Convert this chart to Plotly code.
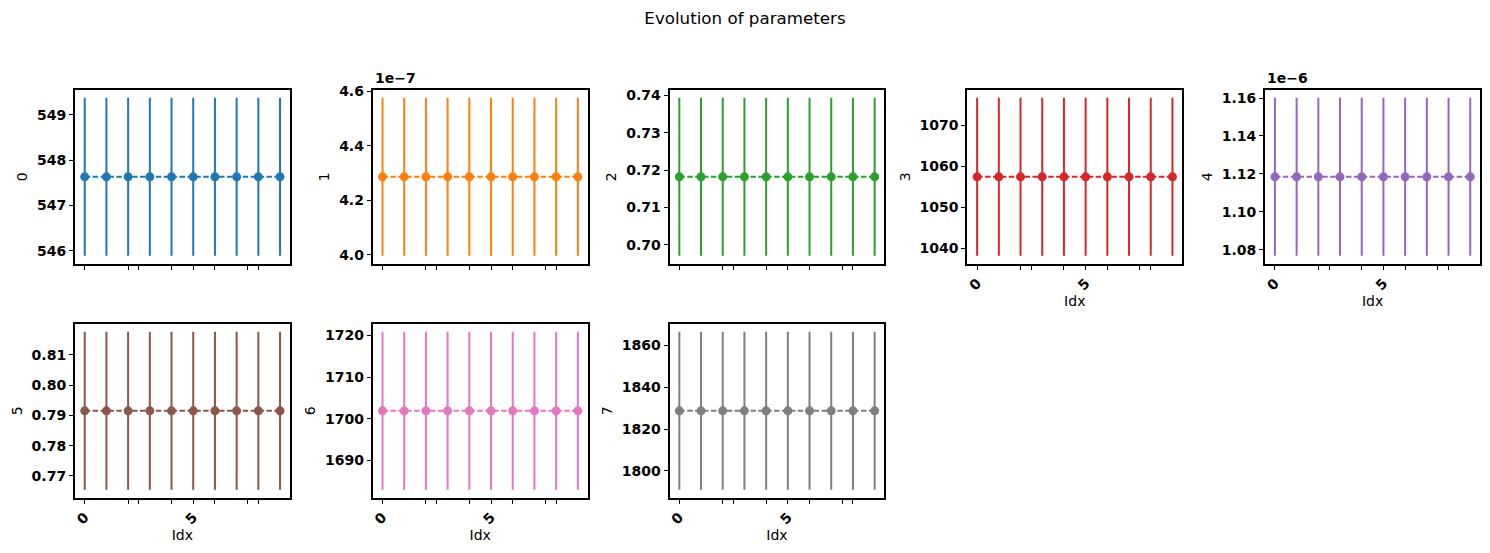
import plotly.graph_objects as go

# ---- data ----
idx = [0, 1, 2, 3, 4, 5, 6, 7, 8, 9]
param_names = ["0", "1", "2", "3", "4", "5", "6", "7"]
param_values = [547.63, 4.286e-7, 0.7182, 1057.4, 1.1185e-6, 0.7915, 1701.9, 1828.7]
param_errors = [1.74, 0.290e-7, 0.0211, 19.3, 0.0416e-6, 0.0261, 19.0, 37.7]
colors = ["#1f77b4", "#ff7f0e", "#2ca02c", "#d62728", "#9467bd", "#8c564b", "#e377c2", "#7f7f7f"]

ytick_vals = [
    [546, 547, 548, 549],
    [4.0e-7, 4.2e-7, 4.4e-7, 4.6e-7],
    [0.70, 0.71, 0.72, 0.73, 0.74],
    [1040, 1050, 1060, 1070],
    [1.08e-6, 1.10e-6, 1.12e-6, 1.14e-6, 1.16e-6],
    [0.77, 0.78, 0.79, 0.80, 0.81],
    [1690, 1700, 1710, 1720],
    [1800, 1820, 1840, 1860],
]
ytick_text = [
    ["546", "547", "548", "549"],
    ["4.0", "4.2", "4.4", "4.6"],
    ["0.70", "0.71", "0.72", "0.73", "0.74"],
    ["1040", "1050", "1060", "1070"],
    ["1.08", "1.10", "1.12", "1.14", "1.16"],
    ["0.77", "0.78", "0.79", "0.80", "0.81"],
    ["1690", "1700", "1710", "1720"],
    ["1800", "1820", "1840", "1860"],
]
exponent_labels = {1: "1e\u22127", 4: "1e\u22126"}
xtick_vals = [0, 2, 2.5, 4, 5, 6, 7.5, 8]
xtick_text = ["0", "", "", "", "5", "", "", ""]

# ---- layout geometry (pixels) ----
W, H = 1490, 553
col_left = [74, 372, 669, 967, 1265]
col_w = 215
row_top = [84, 321]
row_h = 176

fig = go.Figure()
FONT = "DejaVu Sans"
tickfont = dict(family=FONT, size=14, color="black", weight="bold")
titlefont = dict(family=FONT, size=14, color="black")

for i in range(8):
    r = 0 if i < 5 else 1
    c = i if i < 5 else i - 5
    n = i + 1
    xa = "x" if n == 1 else f"x{n}"
    ya = "y" if n == 1 else f"y{n}"
    v, e = param_values[i], param_errors[i]
    fig.add_trace(go.Scatter(
        x=idx, y=[v] * len(idx),
        mode="lines+markers",
        line=dict(color=colors[i], width=2, dash="5.5px,2.4px"),
        marker=dict(color=colors[i], size=9),
        error_y=dict(type="data", array=[e] * len(idx), color=colors[i], thickness=2, width=0),
        xaxis=xa, yaxis=ya, showlegend=False,
    ))
    lo, hi = v - e, v + e
    pad = 0.05 * (hi - lo)
    x0 = col_left[c] / W
    x1 = (col_left[c] + col_w) / W
    y1 = 1 - row_top[r] / H
    y0 = 1 - (row_top[r] + row_h) / H
    show_x = i >= 3
    xkey = "xaxis" if n == 1 else f"xaxis{n}"
    ykey = "yaxis" if n == 1 else f"yaxis{n}"
    fig.layout[xkey] = dict(
        domain=[x0, x1], anchor=ya, range=[-0.45, 9.45],
        tickmode="array", tickvals=xtick_vals, ticktext=xtick_text,
        showticklabels=show_x, tickangle=-45, tickfont=tickfont,
        ticks="outside", ticklen=4, tickwidth=1, tickcolor="black",
        showline=True, linecolor="black", linewidth=2, mirror=True,
        showgrid=False, zeroline=False,
        title=dict(text="Idx" if show_x else "", font=titlefont, standoff=4),
    )
    fig.layout[ykey] = dict(
        domain=[y0, y1], anchor=xa, range=[lo - pad, hi + pad],
        tickmode="array", tickvals=ytick_vals[i], ticktext=ytick_text[i],
        tickfont=tickfont,
        ticks="outside", ticklen=4, tickwidth=1, tickcolor="black",
        showline=True, linecolor="black", linewidth=2, mirror=True,
        showgrid=False, zeroline=False,
        title=dict(text=param_names[i], font=titlefont, standoff=6),
    )
    if i in exponent_labels:
        fig.add_annotation(
            text=exponent_labels[i], xref="paper", yref="paper",
            x=x0, y=y1 + 2 / H, xanchor="left", yanchor="bottom",
            showarrow=False, font=tickfont,
        )

fig.update_layout(
    width=W, height=H,
    margin=dict(l=0, r=0, t=0, b=0),
    paper_bgcolor="white", plot_bgcolor="white",
    title=dict(text="Evolution of parameters", x=0.5, xanchor="center",
               y=1 - 18 / H, yanchor="middle",
               font=dict(family=FONT, size=16.7, color="black")),
)

fig.write_html("out.html")
